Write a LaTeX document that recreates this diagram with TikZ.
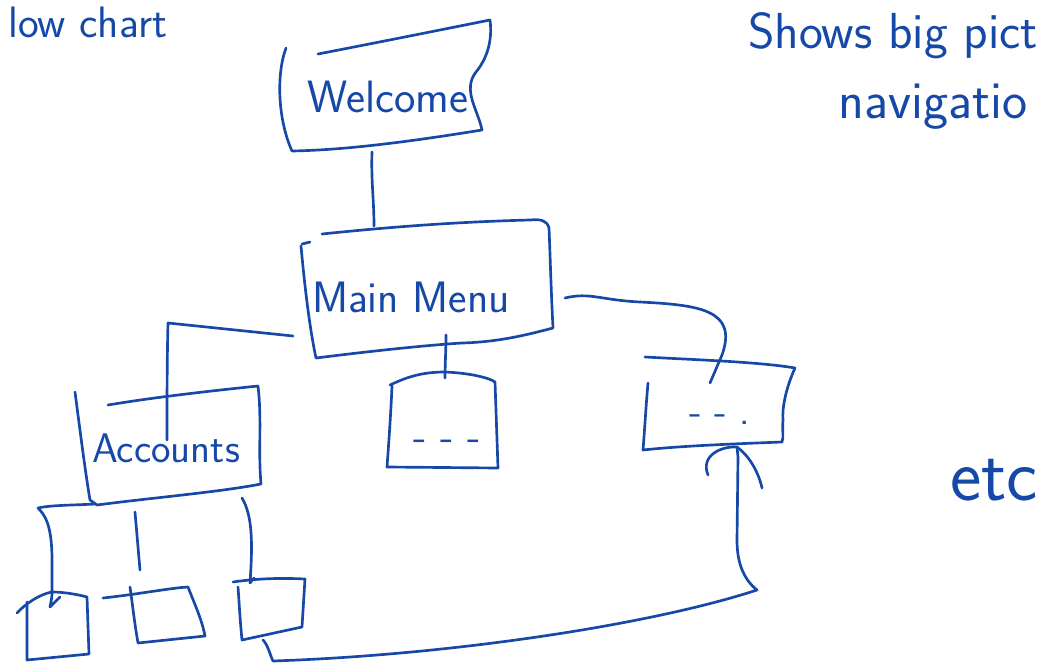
\documentclass[tikz,border=0pt]{standalone}
\usepackage{fontspec}
\usetikzlibrary{arrows.meta}
\definecolor{pen}{RGB}{22,72,168}
\begin{document}
\begin{tikzpicture}[x=0.75pt,y=-0.75pt,
  ink/.style={draw=pen, line width=2pt, line cap=round, line join=round},
  hand/.style={text=pen, font=\sffamily, inner sep=0pt},
]
\useasboundingbox (0,0) rectangle (1042,671);

% ---------- free texts ----------
\node[hand, anchor=base west, font=\sffamily\fontsize{33}{35}\selectfont] (title) at (8,37) {low chart};
\node[hand, anchor=base west, font=\sffamily\fontsize{38}{40}\selectfont] (note1) at (748,48) {Shows big pict};
\node[hand, anchor=base west, font=\sffamily\fontsize{40}{42}\selectfont] (note2) at (838,118) {navigatio};
\node[hand, anchor=base west, font=\sffamily\fontsize{56}{58}\selectfont] (etc) at (950,500) {etc};

% ---------- Welcome ----------
\draw[ink] (286,48) .. controls (276,75) and (278,120) .. (292,151)
  .. controls (350,150) and (420,140) .. (482,130)
  .. controls (478,110) and (462,90) .. (476,72)
  .. controls (490,55) and (492,35) .. (490,20);
\draw[ink] (318,54) .. controls (380,42) and (440,30) .. (490,20);
\node[hand, anchor=base, font=\sffamily\fontsize{34}{36}\selectfont] (welcome) at (388,112) {Welcome};
\coordinate (welcomeS) at (372,152);

% ---------- Main Menu ----------
\draw[ink] (302,244) -- (310,242);
\draw[ink] (301,246) .. controls (305,290) and (310,330) .. (316,358)
  .. controls (380,350) and (430,345) .. (462,343)
  .. controls (500,342) and (530,334) .. (553,328)
  .. controls (551,290) and (550,250) .. (549,228)
  .. controls (547,220) and (540,219) .. (530,220)
  .. controls (450,222) and (380,228) .. (322,234);
\node[hand, anchor=base, font=\sffamily\fontsize{33}{35}\selectfont] (mainmenu) at (411,312) {Main Menu};
\coordinate (mmN) at (374,226);
\coordinate (mmW) at (293,336);
\coordinate (mmS) at (446,335);
\coordinate (mmE) at (565,298);

% ---------- Accounts ----------
\draw[ink] (75,392) .. controls (80,430) and (85,470) .. (90,500) -- (97,505)
  .. controls (150,498) and (220,492) .. (261,484)
  .. controls (258,450) and (262,420) .. (258,386)
  .. controls (200,392) and (150,398) .. (108,405);
\node[hand, anchor=base, font=\sffamily\fontsize{31}{33}\selectfont] (accounts) at (166,462) {Accounts};
\coordinate (accN) at (167,440);
\coordinate (accSW) at (95,504);

% ---------- middle box ----------
\draw[ink] (390,385) .. controls (405,378) and (420,372) .. (445,372)
  .. controls (470,373) and (490,378) .. (495,382)
  .. controls (496,410) and (497,440) .. (498,468)
  -- (387,467)
  .. controls (389,440) and (391,410) .. (392,386);
\node[hand, anchor=base, font=\sffamily\fontsize{32}{34}\selectfont] (dots1) at (447,450) {- - -};
\coordinate (b2N) at (445,378);

% ---------- right box ----------
\draw[ink] (645,357) .. controls (700,360) and (760,362) .. (795,368)
  .. controls (785,390) and (782,410) .. (783,420)
  .. controls (782,430) and (784,437) .. (782,442)
  .. controls (730,444) and (680,446) .. (643,450)
  .. controls (645,425) and (646,405) .. (648,383);
\node[hand, anchor=base, font=\sffamily\fontsize{30}{32}\selectfont] (dots2) at (720,424) {- - .};
\coordinate (b3N) at (710,383);
\coordinate (b3S) at (737,447);

% ---------- small boxes ----------
\draw[ink] (17,613) .. controls (25,604) and (40,594) .. (52,592)
  .. controls (65,592) and (80,595) .. (87,597)
  -- (89,654) -- (27,660) -- (27,602);
\draw[ink] (103,598) .. controls (140,594) and (170,588) .. (188,587)
  .. controls (195,605) and (202,620) .. (205,636)
  -- (138,643)
  .. controls (134,620) and (132,600) .. (130,587);
\draw[ink] (233,582) .. controls (260,578) and (285,578) .. (305,579)
  -- (302,627) -- (242,640)
  .. controls (240,620) and (239,600) .. (238,587);
\coordinate (sa) at (50,607);
\coordinate (sb) at (140,570);
\coordinate (sc) at (250,583);
\coordinate (scS) at (263,640);

% ---------- connectors ----------
\draw[ink] (welcomeS) .. controls (371,180) and (374,200) .. (mmN);
\draw[ink] (mmW) -- (168,323) .. controls (167,360) and (167,400) .. (accN);
\draw[ink] (mmS) .. controls (446,350) and (445,365) .. (b2N);
\draw[ink] (mmE) .. controls (590,292) and (600,300) .. (640,302)
  .. controls (700,305) and (738,310) .. (722,355) -- (b3N);
% accounts -> three sub boxes
\draw[ink] (accSW) .. controls (80,505) and (50,505) .. (38,508)
  .. controls (45,515) and (52,525) .. (52,560) -- (52,595)
  .. controls (51,603) and (50,607) .. (sa) -- (60,597);
\draw[ink] (135,512) -- (sb);
\draw[ink] (242,498) .. controls (252,515) and (253,540) .. (sc) -- (254,578);
% loop back arrow
\draw[ink] (scS) .. controls (268,645) and (270,655) .. (273,661)
  .. controls (450,655) and (650,625) .. (757,590)
  .. controls (742,578) and (737,560) .. (737,540)
  -- (738,457) -- (b3S);
\draw[ink] (b3S) .. controls (722,446) and (700,455) .. (708,475);
\draw[ink] (b3S) .. controls (748,455) and (758,470) .. (762,488);
\end{tikzpicture}
\end{document}
